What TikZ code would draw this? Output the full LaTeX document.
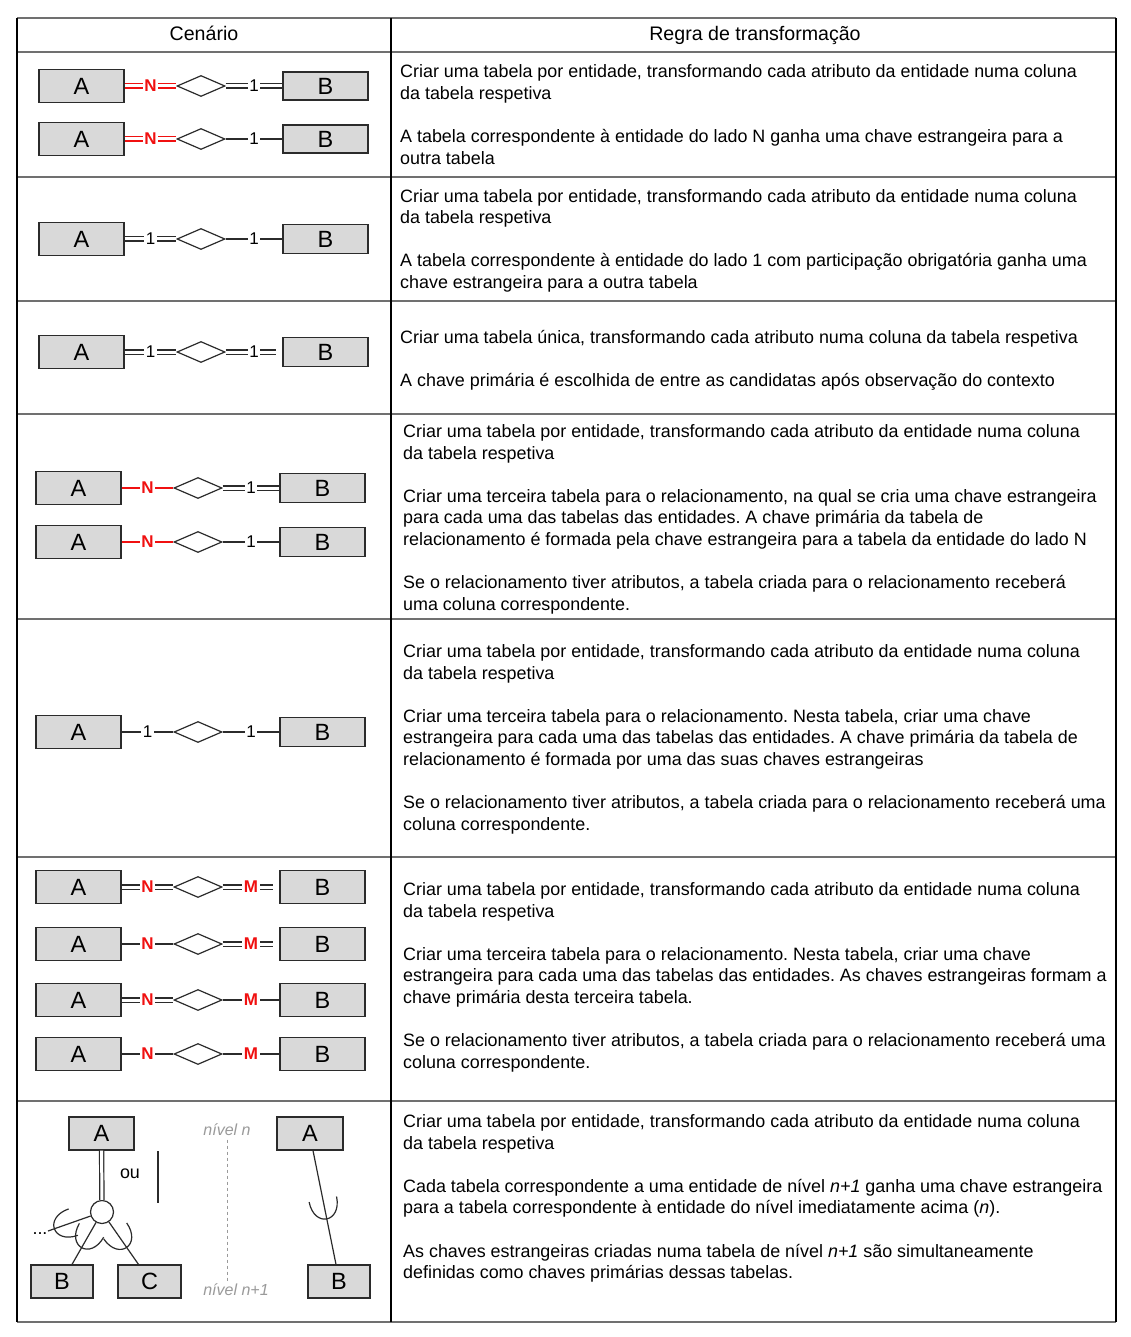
\documentclass[tikz,border=0pt]{standalone}
\usepackage{fontspec}
\setmainfont{Liberation Sans}
\usetikzlibrary{shapes.geometric,decorations.markings,calc}

\definecolor{boxgray}{HTML}{D9D9D9}
\definecolor{rulegray}{HTML}{707070}
\definecolor{ergray}{HTML}{2B2B2B}
\definecolor{erred}{HTML}{F01010}
\definecolor{levelgray}{HTML}{9A9A9A}

\frenchspacing
\newcommand{\bodyfont}{\fontsize{17.9}{21.6}\selectfont}
\newcommand{\ncard}{{\color{erred}\bfseries N}}
\newcommand{\mcard}{{\color{erred}\bfseries M}}

\tikzset{
    entity/.style={draw=ergray, fill=boxgray, line width=1.2pt, minimum width=85pt,
        minimum height=33pt, inner sep=0pt, font=\fontsize{23.5}{24}\selectfont},
    relation/.style={diamond, draw=ergray, fill=white, line width=1.2pt,
        minimum width=48pt, minimum height=21pt, inner sep=0pt},
    total/.style={draw=ergray, double, double distance=3pt, line width=1.2pt},
    partial/.style={draw=ergray, line width=1.2pt},
    card/.style={fill=white, inner sep=1.5pt, font=\fontsize{17}{17}\selectfont},
    rule text/.style={anchor=north west, align=left, inner sep=0pt, font=\bodyfont},
    gap end/.style={shorten >=6pt},
    subset/.style={postaction={decorate}, decoration={markings,
        mark=at position #1 with {\draw[partial] (-20pt,14pt) .. controls (6.7pt,14pt) and (6.7pt,-14pt) .. (-20pt,-14pt);}}},
}

% one binary relationship: A -- <> -- B
% #1 B height, #2 id, #3 x of A, #4 y, #5 left link, #6 left card, #7 right link, #8 right card
\newcommand{\errow}[8][30pt]{%
    \node[entity] (A#2) at (#3+42.5,#4) {A};
    \node[relation] (R#2) at (#3+162,#4) {};
    \node[entity, minimum height=#1] (B#2) at (#3+286.5,#4) {B};
    \draw[#5] (A#2) -- node[card] {#6} (R#2);
    \draw[#7] (R#2) -- node[card] {#8} (B#2);
}

\begin{document}
\begin{tikzpicture}[x=1pt, y=-1pt]
    \useasboundingbox[fill=white] (0,0) rectangle (1130,1337);

    % Table rules
    \foreach \y in {18,52,177,301,414,619,857,1101,1322} {
        \draw[rulegray, line width=1.6pt] (17,\y) -- (1116,\y);
    }
    \foreach \x in {17,391,1116} {
        \draw[black, line width=1.6pt] (\x,18) -- (\x,1322);
    }

    % Header
    \node[anchor=base, inner sep=0pt, font=\fontsize{19.6}{22}\selectfont] (hcen) at (204,41) {Cenário};
    \node[anchor=base, inner sep=0pt, font=\fontsize{19.6}{22}\selectfont] (hreg) at (755,41) {Regra de transformação};

    % Scenarios, binary relationships
    \errow[28pt]{1a}{39}{86}{total, erred}{\ncard}{total}{1}
    \errow[28pt]{1b}{39}{139}{total, erred}{\ncard}{partial}{1}
    \errow[29pt]{2}{39}{239}{total}{1}{partial}{1}
    \errow[29pt]{3}{39}{352}{total}{1}{total, gap end}{1}
    \errow[29pt]{4a}{36}{488}{partial, erred}{\ncard}{total}{1}
    \errow[29pt]{4b}{36}{542}{partial, erred}{\ncard}{partial}{1}
    \errow[29pt]{5}{36}{732}{partial}{1}{partial}{1}
    \errow[33pt]{6a}{36}{887}{total}{\ncard}{total, gap end}{\mcard}
    \errow[33pt]{6b}{36}{944}{partial}{\ncard}{total, gap end}{\mcard}
    \errow[33pt]{6c}{36}{1000}{total}{\ncard}{partial}{\mcard}
    \errow[33pt]{6d}{36}{1054}{partial}{\ncard}{partial}{\mcard}

    % Scenario, specialization
    \node[entity, minimum width=65pt] (A7) at (101.5,1133.5) {A};
    \node[circle, draw=ergray, fill=white, line width=1.2pt, minimum size=23pt, inner sep=0pt] (disj) at (102,1212) {};
    \node[entity, minimum width=62pt] (B7) at (62,1281.5) {B};
    \node[entity, minimum width=63pt] (C7) at (149.5,1281.5) {C};
    \node[font=\bodyfont] (ou) at (130,1174) {ou};
    \node[font=\bodyfont] (more) at (40,1234) {...};
    \coordinate (moreend) at (48,1231);
    \draw[total] (A7) -- (disj);
    \draw[partial] (158,1151) -- (158,1203);
    \draw[partial, subset=0.85] (disj) -- (moreend);
    \draw[partial, subset=0.6] (disj) -- ([xshift=10pt]B7.north);
    \draw[partial, subset=0.6] (disj) -- ([xshift=-11pt]C7.north);

    % Levels
    \node[font=\itshape\fontsize{16}{17}\selectfont, text=levelgray] (lvn) at (227,1130) {nível n};
    \node[font=\itshape\fontsize{16}{17}\selectfont, text=levelgray] (lvm) at (236,1290) {nível n+1};
    \draw[levelgray, dashed, line width=0.9pt] (lvn) -- (lvm.north -| lvn);

    \node[entity, minimum width=66pt] (A8) at (310,1133.5) {A};
    \node[entity, minimum width=62pt] (B8) at (339,1281.5) {B};
    \draw[partial, subset=0.6] ([xshift=3pt]A8.south) -- ([xshift=-3pt]B8.north);

    % Transformation rules
    \node[rule text] (t1) at (400,64.7) {Criar uma tabela por entidade, transformando cada atributo da entidade numa coluna\\
        da tabela respetiva\\[21.6pt]
        A tabela correspondente à entidade do lado N ganha uma chave estrangeira para a\\
        outra tabela};
    \node[rule text] (t2) at (400,189) {Criar uma tabela por entidade, transformando cada atributo da entidade numa coluna\\
        da tabela respetiva\\[21.6pt]
        A tabela correspondente à entidade do lado 1 com participação obrigatória ganha uma\\
        chave estrangeira para a outra tabela};
    \node[rule text] (t3) at (400,330.4) {Criar uma tabela única, transformando cada atributo numa coluna da tabela respetiva\\[21.6pt]
        A chave primária é escolhida de entre as candidatas após observação do contexto};
    \node[rule text] (t4) at (403,424.4) {Criar uma tabela por entidade, transformando cada atributo da entidade numa coluna\\
        da tabela respetiva\\[21.6pt]
        Criar uma terceira tabela para o relacionamento, na qual se cria uma chave estrangeira\\
        para cada uma das tabelas das entidades. A chave primária da tabela de\\
        relacionamento é formada pela chave estrangeira para a tabela da entidade do lado N\\[21.6pt]
        Se o relacionamento tiver atributos, a tabela criada para o relacionamento receberá\\
        uma coluna correspondente.};
    \node[rule text] (t5) at (403,644.4) {Criar uma tabela por entidade, transformando cada atributo da entidade numa coluna\\
        da tabela respetiva\\[21.6pt]
        Criar uma terceira tabela para o relacionamento. Nesta tabela, criar uma chave\\
        estrangeira para cada uma das tabelas das entidades. A chave primária da tabela de\\
        relacionamento é formada por uma das suas chaves estrangeiras\\[21.6pt]
        Se o relacionamento tiver atributos, a tabela criada para o relacionamento receberá uma\\
        coluna correspondente.};
    \node[rule text] (t6) at (403,882.4) {Criar uma tabela por entidade, transformando cada atributo da entidade numa coluna\\
        da tabela respetiva\\[21.6pt]
        Criar uma terceira tabela para o relacionamento. Nesta tabela, criar uma chave\\
        estrangeira para cada uma das tabelas das entidades. As chaves estrangeiras formam a\\
        chave primária desta terceira tabela.\\[21.6pt]
        Se o relacionamento tiver atributos, a tabela criada para o relacionamento receberá uma\\
        coluna correspondente.};
    \node[rule text] (t7) at (403,1114.4) {Criar uma tabela por entidade, transformando cada atributo da entidade numa coluna\\
        da tabela respetiva\\[21.6pt]
        Cada tabela correspondente a uma entidade de nível \textit{n+1} ganha uma chave estrangeira\\
        para a tabela correspondente à entidade do nível imediatamente acima (\textit{n}).\\[21.6pt]
        As chaves estrangeiras criadas numa tabela de nível \textit{n+1} são simultaneamente\\
        definidas como chaves primárias dessas tabelas.};
\end{tikzpicture}
\end{document}
